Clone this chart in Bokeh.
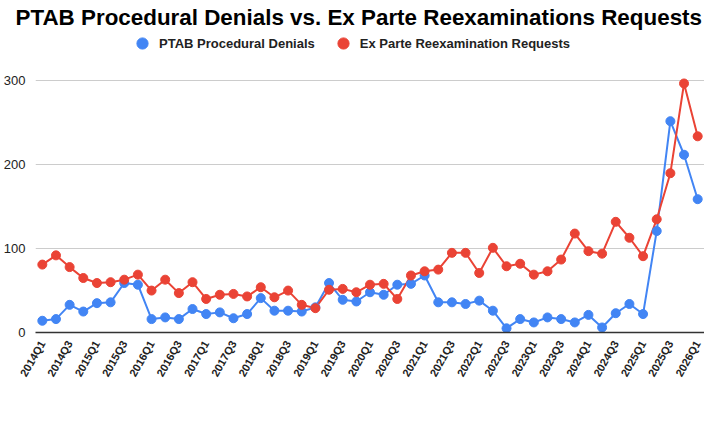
from bokeh.plotting import figure
from bokeh.models import FixedTicker, Range1d, Legend, LegendItem, Label
from bokeh.embed import file_html
from bokeh.resources import INLINE

quarters = ["2014Q1", "2014Q2", "2014Q3", "2014Q4", "2015Q1", "2015Q2", "2015Q3", "2015Q4",
            "2016Q1", "2016Q2", "2016Q3", "2016Q4", "2017Q1", "2017Q2", "2017Q3", "2017Q4",
            "2018Q1", "2018Q2", "2018Q3", "2018Q4", "2019Q1", "2019Q2", "2019Q3", "2019Q4",
            "2020Q1", "2020Q2", "2020Q3", "2020Q4", "2021Q1", "2021Q2", "2021Q3", "2021Q4",
            "2022Q1", "2022Q2", "2022Q3", "2022Q4", "2023Q1", "2023Q2", "2023Q3", "2023Q4",
            "2024Q1", "2024Q2", "2024Q3", "2024Q4", "2025Q1", "2025Q2", "2025Q3", "2025Q4",
            "2026Q1"]

denials = [14, 16, 33, 25, 35, 36, 59, 57, 16, 18, 16, 28, 22, 24, 17, 22,
           41, 26, 26, 25, 30, 59, 39, 37, 48, 45, 57, 58, 68, 36, 36, 34,
           38, 26, 5, 16, 12, 18, 16, 12, 21, 6, 23, 34, 22, 121, 252, 212,
           159]

reexams = [81, 92, 78, 65, 59, 60, 63, 69, 50, 63, 47, 60, 40, 45, 46, 43,
           54, 42, 50, 33, 29, 51, 52, 48, 57, 58, 40, 68, 73, 75, 95, 95,
           71, 101, 79, 82, 69, 73, 87, 118, 97, 94, 132, 113, 91, 135, 190, 297,
           234]

y_ticks = [0, 100, 200, 300]

BLUE = "#4285F4"
RED = "#EA4335"
FONT = "Liberation Sans"

x = list(range(len(quarters)))

p = figure(width=704, height=409, output_backend="svg", toolbar_location=None,
           title="PTAB Procedural Denials vs. Ex Parte Reexaminations Requests",
           x_range=Range1d(-0.5, len(quarters) - 0.5), y_range=Range1d(0, 359),
           min_border_left=0, min_border_right=0, min_border_top=0, min_border_bottom=77)

p.title.align = "left"
p.title.offset = -20
p.title.text_font = FONT
p.title.text_font_size = "22.4px"
p.title.text_font_style = "bold"
p.title.text_color = "#000000"
p.title.standoff = 4

p.line(x, denials, line_color=BLUE, line_width=2)
p.line(x, reexams, line_color=RED, line_width=2)
s1 = p.scatter(x, denials, size=9, fill_color=BLUE, line_color=BLUE)
s2 = p.scatter(x, reexams, size=9, fill_color=RED, line_color=RED)

legend = Legend(items=[LegendItem(label="PTAB Procedural Denials", renderers=[s1]),
                       LegendItem(label="Ex Parte Reexamination Requests", renderers=[s2])],
                orientation="horizontal", location=(92, 275),
                border_line_color=None, background_fill_alpha=0,
                label_text_font=FONT, label_text_font_size="13px",
                label_text_font_style="bold", label_text_color="#222222",
                glyph_width=30, glyph_height=28, label_standoff=2,
                spacing=13, padding=0, margin=0)
p.add_layout(legend)

p.xaxis.ticker = FixedTicker(ticks=x[::2])
p.xaxis.major_label_overrides = {i: quarters[i] for i in x[::2]}
p.xaxis.major_label_orientation = 1.05
p.xaxis.major_label_standoff = 3
p.xaxis.major_label_text_font = FONT
p.xaxis.major_label_text_font_size = "11px"
p.xaxis.major_label_text_font_style = "bold"
p.xaxis.major_label_text_color = "#222222"
p.xaxis.major_tick_line_color = None
p.xaxis.minor_tick_line_color = None
p.xaxis.axis_line_color = "#333333"
p.xaxis.axis_line_width = 1.5

# x axis title placed below the rotated labels, centred under the frame
x_title = Label(x=(len(quarters) - 1) / 2, y=-71, x_units="data", y_units="screen",
                text="Quarter", text_align="center", text_baseline="middle",
                text_font=FONT, text_font_size="13px", text_font_style="bold",
                text_color="#222222")
p.add_layout(x_title)

p.yaxis.ticker = FixedTicker(ticks=y_ticks)
p.yaxis.axis_line_color = None
p.yaxis.major_tick_line_color = None
p.yaxis.minor_tick_line_color = None
p.yaxis.major_label_standoff = 4
p.yaxis.major_label_text_font = FONT
p.yaxis.major_label_text_font_size = "13px"
p.yaxis.major_label_text_color = "#222222"

p.xgrid.grid_line_color = None
p.ygrid.grid_line_color = "#cccccc"
p.ygrid.ticker = FixedTicker(ticks=y_ticks)
p.outline_line_color = None

open("out.html", "w").write(file_html(p, INLINE))
